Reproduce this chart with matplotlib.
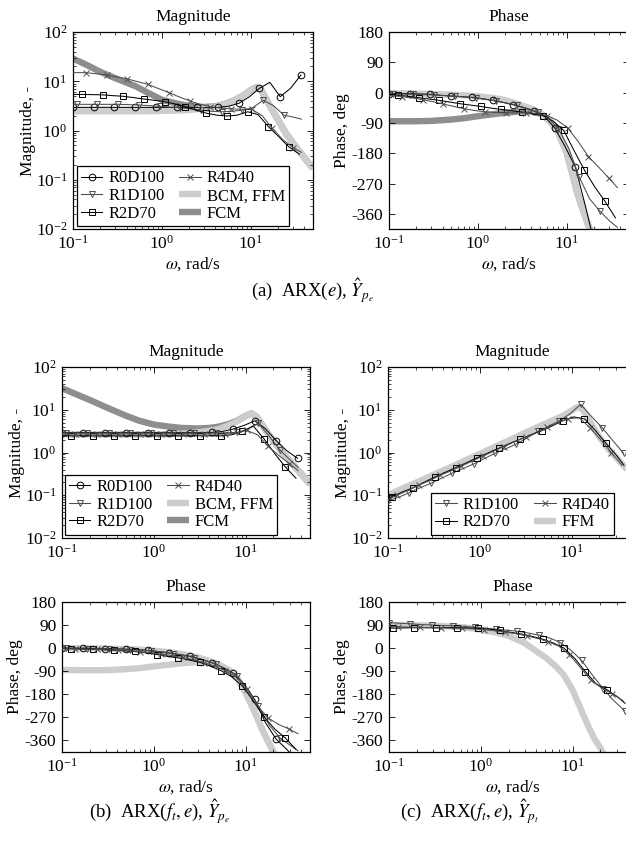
import matplotlib
matplotlib.use('Agg')
import matplotlib.pyplot as plt

plt.rcParams['font.family'] = ['Liberation Serif', 'DejaVu Serif']
plt.rcParams['mathtext.fontset'] = 'stix'
plt.rcParams['axes.unicode_minus'] = False

# frequency grids (rad/s); one per marker offset
w0 = [0.100, 0.131, 0.171, 0.224, 0.292, 0.382, 0.500, 0.654, 0.855, 1.118, 1.462, 1.912,
      2.500, 3.27, 4.28, 5.59, 7.31, 9.56, 12.5, 16.35, 21.4, 27.96, 36.6]
w1 = [0.100, 0.110, 0.144, 0.188, 0.246, 0.321, 0.420, 0.550, 0.720, 0.940, 1.230, 1.610,
      2.100, 2.750, 3.600, 4.710, 6.150, 8.040, 10.50, 13.75, 18.00, 23.50, 30.80, 37.0]
w2 = [0.100, 0.126, 0.165, 0.215, 0.282, 0.368, 0.481, 0.630, 0.824, 1.077, 1.410, 1.840,
      2.410, 3.150, 4.120, 5.390, 7.040, 9.210, 12.05, 15.75, 20.60, 26.90, 35.20]
w3 = [0.100, 0.140, 0.183, 0.239, 0.313, 0.409, 0.535, 0.700, 0.915, 1.196, 1.565, 2.050,
      2.680, 3.500, 4.580, 5.980, 7.820, 10.20, 13.40, 17.50, 22.90, 29.90, 37.0]
wg = [0.10, 0.15, 0.20, 0.30, 0.50, 0.70, 1.0, 1.5, 2.0, 3.0, 4.0, 5.0, 6.5, 8.0, 10.0,
      11.5, 13.0, 15.0, 17.0, 20.0, 25.0, 32.0, 40.0, 50.0]

# (a) ARX(e), Yp_e
a_mag_r0 = [2.95, 2.95, 2.95, 2.95, 2.95, 2.95, 2.95, 2.95, 2.95, 2.95, 2.95, 2.95,
            2.95, 2.9, 2.95, 3.1, 3.56, 4.8, 7.2, 9.5, 4.86, 7.2, 13.4]
a_mag_r1 = [3.4, 3.4, 3.4, 3.4, 3.4, 3.4, 3.35, 3.3, 3.2, 3.1, 3.0, 2.9,
            2.75, 2.6, 2.45, 2.4, 2.45, 2.6, 2.9, 4.1, 3.2, 2.05, 1.85, 1.7]
a_mag_r2 = [5.4, 5.4, 5.35, 5.3, 5.1, 4.95, 4.65, 4.36, 4.1, 3.85, 3.45, 3.05,
            2.6, 2.25, 2.05, 1.97, 2.05, 2.4, 2.1, 1.2, 0.75, 0.46, 0.33]
a_mag_r4 = [15.0, 14.9, 14.2, 13.4, 12.2, 11.1, 9.8, 8.6, 7.1, 5.9, 4.8, 4.0,
            3.4, 3.05, 2.85, 2.75, 2.7, 2.7, 2.0, 1.1, 0.65, 0.45, 0.36]
a_mag_bcm = [2.45, 2.45, 2.45, 2.45, 2.45, 2.47, 2.5, 2.55, 2.6, 2.8, 3.05, 3.4,
             4.1, 5.0, 6.6, 7.5, 6.8, 4.2, 2.8, 1.7, 0.85, 0.47, 0.28, 0.17]
a_mag_fcm = [29.0, 20.5, 15.7, 11.5, 8.0, 5.8, 4.2, 3.5, 3.15, 3.0, 3.1, 3.4,
             4.1, 5.0, 6.6, 7.5, 6.8, 4.2, 2.8, 1.7, 0.85, 0.47, 0.28, 0.17]
a_ph_r0 = [-3, -3, -3, -4, -5, -8, -10, -12, -14, -18, -23, -29,
           -36, -45, -55, -70, -105, -160, -222, -342, -470, -560, -620]
a_ph_r1 = [-3, -4, -4, -5, -6, -7, -9, -11, -13, -16, -20, -25,
           -31, -38, -47, -58, -75, -108, -165, -250, -315, -352, -383, -400]
a_ph_r2 = [-5, -8, -11, -15, -19, -23, -28, -33, -37, -41, -46, -50,
           -54, -58, -62, -68, -85, -112, -172, -230, -280, -323, -372]
a_ph_r4 = [-8, -12, -16, -21, -27, -34, -41, -48, -53, -57, -59, -60,
           -60, -60, -62, -68, -82, -105, -145, -190, -222, -255, -282]
a_ph_bcm = [-2, -2, -3, -4, -6, -8, -11, -16, -22, -36, -48, -60,
            -85, -118, -180, -240, -295, -345, -385, -440, -500, -550, -590, -620]
a_ph_fcm = [-85, -85, -85, -84, -80, -76, -70, -64, -60, -56, -56, -62,
            -85, -118, -180, -240, -295, -345, -385, -440, -500, -550, -590, -620]

# (b) ARX(f_t, e), Yp_e
b_mag_r0 = [2.92, 2.92, 2.92, 2.92, 2.92, 2.92, 2.92, 2.92, 2.92, 2.92, 2.92, 2.92,
            2.92, 2.92, 2.95, 3.1, 3.55, 4.3, 5.5, 3.6, 1.9, 1.1, 0.73]
b_mag_r1 = [2.85, 2.85, 2.85, 2.85, 2.85, 2.85, 2.85, 2.85, 2.85, 2.85, 2.85, 2.85,
            2.85, 2.85, 2.85, 2.85, 2.9, 2.95, 3.5, 4.8, 2.4, 1.15, 0.65, 0.45]
b_mag_r2 = [2.45, 2.45, 2.45, 2.45, 2.45, 2.45, 2.45, 2.45, 2.45, 2.45, 2.45, 2.45,
            2.45, 2.45, 2.45, 2.45, 2.6, 3.1, 4.2, 2.1, 0.95, 0.46, 0.25]
b_mag_r4 = [2.7, 2.7, 2.7, 2.7, 2.7, 2.7, 2.7, 2.7, 2.7, 2.7, 2.7, 2.7,
            2.7, 2.7, 2.7, 2.7, 2.8, 3.3, 2.6, 1.4, 0.85, 0.55, 0.38]
b_mag_bcm = [2.65, 2.65, 2.65, 2.65, 2.65, 2.65, 2.65, 2.7, 2.75, 2.95, 3.2, 3.5,
             4.3, 5.3, 7.2, 8.2, 7.0, 4.5, 3.0, 1.9, 1.0, 0.55, 0.32, 0.18]
b_mag_fcm = [32.0, 22.0, 17.0, 11.5, 7.2, 5.5, 4.5, 4.0, 3.75, 3.65, 3.75, 4.0,
             4.6, 5.5, 7.2, 8.2, 7.0, 4.5, 3.0, 1.9, 1.0, 0.55, 0.32, 0.18]
b_ph_r0 = [0, 0, 0, -1, -2, -3, -4, -6, -9, -13, -19, -25,
           -32, -43, -57, -75, -98, -140, -200, -290, -355, -395, -440]
b_ph_r1 = [0, -1, -1, -2, -2, -3, -4, -6, -8, -11, -15, -21,
           -28, -37, -48, -63, -82, -108, -160, -225, -300, -350, -380, -400]
b_ph_r2 = [-1, -2, -3, -4, -6, -8, -10, -13, -18, -25, -32, -38,
           -46, -55, -70, -88, -112, -148, -205, -267, -315, -350, -395]
b_ph_r4 = [-2, -3, -4, -5, -7, -9, -11, -14, -18, -23, -29, -36,
           -45, -56, -70, -88, -112, -160, -225, -272, -298, -316, -334]
b_ph_bcm = [0, 0, -1, -2, -4, -6, -10, -16, -23, -36, -50, -63,
            -85, -115, -175, -220, -262, -315, -355, -405, -460, -510, -550, -580]
b_ph_fcm = [-85, -86, -86, -86, -82, -78, -71, -64, -59, -55, -56, -63,
            -85, -115, -175, -220, -262, -315, -355, -405, -460, -510, -550, -580]

# (c) ARX(f_t, e), Yp_t
c_mag_r1 = [0.074, 0.09, 0.115, 0.15, 0.19, 0.25, 0.33, 0.42, 0.54, 0.72, 0.96, 1.22,
            1.59, 2.2, 3.1, 4.1, 5.5, 8.0, 13.4, 7.0, 3.8, 1.9, 0.96]
c_mag_r2 = [0.085, 0.093, 0.12, 0.15, 0.2, 0.265, 0.345, 0.445, 0.58, 0.76, 0.98, 1.26,
            1.62, 2.04, 2.6, 3.25, 4.2, 5.6, 6.8, 6.1, 3.3, 1.65, 0.85, 0.5]
c_mag_r4 = [0.08, 0.1, 0.13, 0.17, 0.22, 0.29, 0.37, 0.48, 0.63, 0.82, 1.07, 1.38,
            1.8, 2.3, 3.0, 3.85, 5.0, 6.2, 6.5, 3.8, 2.0, 1.0, 0.5]
c_mag_ffm = [0.1, 0.15, 0.195, 0.29, 0.47, 0.66, 0.93, 1.4, 1.85, 2.8, 3.7, 4.6,
             5.9, 7.2, 9.6, 11.5, 10.5, 6.5, 4.0, 2.3, 1.2, 0.68, 0.4, 0.22]
c_ph_r1 = [100, 97, 95, 92, 90, 88, 87, 85, 81, 78, 74, 70,
           66, 59, 51, 40, 22, -8, -48, -105, -158, -205, -244]
c_ph_r2 = [80, 78, 79, 80, 80, 80, 80, 80, 79, 77, 74, 69,
           62, 55, 46, 35, 20, 0, -40, -92, -140, -162, -190, -215]
c_ph_r4 = [85, 83, 82, 81, 80, 79, 78, 77, 75, 72, 68, 63,
           56, 48, 38, 25, 8, -25, -75, -125, -155, -178, -205]
c_ph_ffm = [90, 90, 89, 88, 84, 80, 72, 60, 48, 20, -12, -35,
            -70, -105, -165, -215, -260, -310, -350, -390, -450, -500, -540, -570]

W, H = 626, 841
LIGHT = '#cdcdcd'
DARK = '#8e8e8e'
FS = 12.5
LFS = 12

styles = {
    'R0D100': dict(color='k', marker='o', ms=4.8),
    'R1D100': dict(color='0.3', marker='v', ms=4.8),
    'R2D70': dict(color='k', marker='s', ms=4.0),
    'R4D40': dict(color='0.3', marker='x', ms=3.8),
}


def add_ax(fig, left, top, right, bottom):
    return fig.add_axes([left / W, 1 - bottom / H, (right - left) / W, (bottom - top) / H])


def setup(ax, kind, title):
    ax.set_xscale('log')
    ax.set_xlim(0.1, 50)
    ax.set_xticks([0.1, 1, 10])
    if kind == 'mag':
        ax.set_yscale('log')
        ax.set_ylim(1e-2, 1e2)
        ax.set_ylabel('Magnitude, -', fontsize=FS, labelpad=0)
    else:
        ax.set_ylim(-405, 180)
        ax.set_yticks([-360, -270, -180, -90, 0, 90, 180])
        ax.set_ylabel('Phase, deg', fontsize=FS, labelpad=1)
    ax.tick_params(which='both', direction='in', top=True, right=True, labelsize=FS)
    ax.tick_params(which='major', length=4, width=0.6, pad=4)
    ax.tick_params(which='minor', length=2, width=0.5)
    for s in ax.spines.values():
        s.set_linewidth(0.9)
    ax.set_title(title, fontsize=FS, pad=8)


def draw(ax, series, grays):
    # grays: list of (w, y, color, label)
    for w, y, col, lab in grays:
        ax.plot(w, y, color=col, lw=4.6, solid_capstyle='butt', label=lab, zorder=1)
    for w, y, name, start, stop in series:
        st = styles[name]
        ax.plot(w, y, color=st['color'], lw=0.75, marker=st['marker'], ms=st['ms'],
                mfc='none', mec=st['color'], mew=0.7, markevery=slice(start, stop, 2),
                label=name, zorder=3)


def legend(ax, order, dx, dy, axw, axh):
    h, l = ax.get_legend_handles_labels()
    d = dict(zip(l, h))
    leg = ax.legend([d[k] for k in order], order, loc='lower left',
                    bbox_to_anchor=(dx / axw, dy / axh), borderaxespad=0, ncol=2,
                    fontsize=LFS, frameon=True, fancybox=False, edgecolor='k',
                    framealpha=1, handlelength=1.3, handletextpad=0.35,
                    columnspacing=0.9, labelspacing=0.1, borderpad=0.25, numpoints=1)
    leg.get_frame().set_linewidth(0.9)


fig = plt.figure(figsize=(W / 100, H / 100), dpi=100)

# --- (a)
ax = add_ax(fig, 73, 32, 313, 229)
setup(ax, 'mag', 'Magnitude')
draw(ax, [(w0, a_mag_r0, 'R0D100', 0, None), (w1, a_mag_r1, 'R1D100', 1, 22),
          (w2, a_mag_r2, 'R2D70', 1, None), (w3, a_mag_r4, 'R4D40', 1, None)],
     [(wg, a_mag_fcm, DARK, 'FCM'), (wg, a_mag_bcm, LIGHT, 'BCM, FFM')])
legend(ax, ['R0D100', 'R1D100', 'R2D70', 'R4D40', 'BCM, FFM', 'FCM'], 3.5, 3, 240, 197)
ax.set_xlabel(r'$\omega$, rad/s', fontsize=FS, labelpad=2)

ax = add_ax(fig, 389, 32, 629, 229)
setup(ax, 'ph', 'Phase')
draw(ax, [(w0, a_ph_r0, 'R0D100', 0, None), (w1, a_ph_r1, 'R1D100', 1, 22),
          (w2, a_ph_r2, 'R2D70', 1, None), (w3, a_ph_r4, 'R4D40', 1, None)],
     [(wg, a_ph_fcm, DARK, 'FCM'), (wg, a_ph_bcm, LIGHT, 'BCM, FFM')])
ax.set_xlabel(r'$\omega$, rad/s', fontsize=FS, labelpad=2)

fig.text(313 / W, 1 - 291 / H, r'(a)  ARX($e$), $\hat{Y}_{p_e}$', ha='center', va='center',
         fontsize=13.5)

# --- (b)
ax = add_ax(fig, 62, 367, 310, 538)
setup(ax, 'mag', 'Magnitude')
draw(ax, [(w0, b_mag_r0, 'R0D100', 0, None), (w1, b_mag_r1, 'R1D100', 1, 22),
          (w2, b_mag_r2, 'R2D70', 1, None), (w3, b_mag_r4, 'R4D40', 1, None)],
     [(wg, b_mag_fcm, DARK, 'FCM'), (wg, b_mag_bcm, LIGHT, 'BCM, FFM')])
legend(ax, ['R0D100', 'R1D100', 'R2D70', 'R4D40', 'BCM, FFM', 'FCM'], 2.5, 3.5, 248, 171)

ax = add_ax(fig, 62, 602, 310, 752)
setup(ax, 'ph', 'Phase')
draw(ax, [(w0, b_ph_r0, 'R0D100', 0, None), (w1, b_ph_r1, 'R1D100', 1, 22),
          (w2, b_ph_r2, 'R2D70', 1, None), (w3, b_ph_r4, 'R4D40', 1, None)],
     [(wg, b_ph_fcm, LIGHT, 'FCM'), (wg, b_ph_bcm, LIGHT, 'BCM, FFM')])
ax.set_xlabel(r'$\omega$, rad/s', fontsize=FS, labelpad=2)

fig.text(160 / W, 1 - 812 / H, r'(b)  ARX($f_t, e$), $\hat{Y}_{p_e}$', ha='center',
         va='center', fontsize=13.5)

# --- (c)
ax = add_ax(fig, 388, 367, 636, 538)
setup(ax, 'mag', 'Magnitude')
draw(ax, [(w0, c_mag_r1, 'R1D100', 0, None), (w1, c_mag_r2, 'R2D70', 1, 22),
          (w2, c_mag_r4, 'R4D40', 1, None)],
     [(wg, c_mag_ffm, LIGHT, 'FFM')])
legend(ax, ['R1D100', 'R2D70', 'R4D40', 'FFM'], 43, 3.5, 248, 171)

ax = add_ax(fig, 389, 602, 637, 752)
setup(ax, 'ph', 'Phase')
draw(ax, [(w0, c_ph_r1, 'R1D100', 0, None), (w1, c_ph_r2, 'R2D70', 1, 22),
          (w2, c_ph_r4, 'R4D40', 1, None)],
     [(wg, c_ph_ffm, LIGHT, 'FFM')])
ax.set_xlabel(r'$\omega$, rad/s', fontsize=FS, labelpad=2)

fig.text(470 / W, 1 - 812 / H, r'(c)  ARX($f_t, e$), $\hat{Y}_{p_t}$', ha='center',
         va='center', fontsize=13.5)

plt.savefig('out.png', dpi=100)
